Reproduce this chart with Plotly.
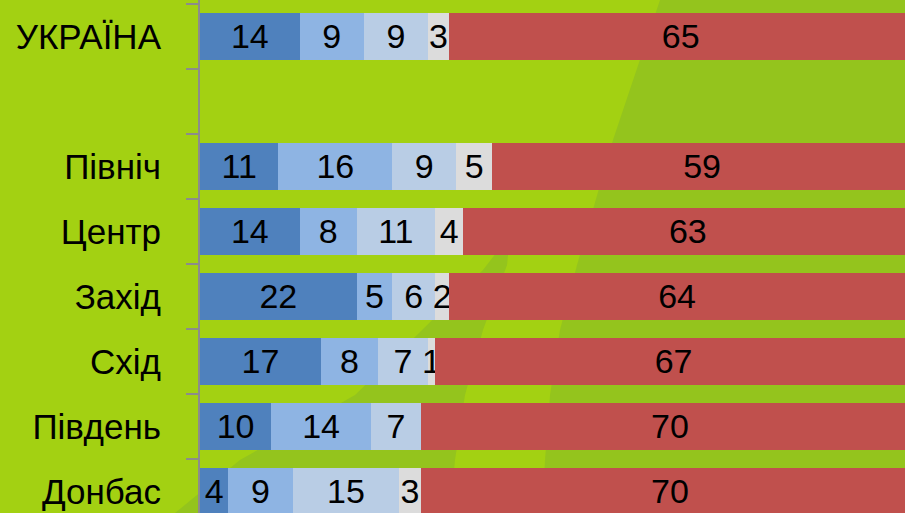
import plotly.graph_objects as go

categories = ["УКРАЇНА", " ", "Північ", "Центр", "Захід", "Схід", "Південь", "Донбас"]
s1 = [14, None, 11, 14, 22, 17, 10, 4]
s2 = [9, None, 16, 8, 5, 8, 14, 9]
s3 = [9, None, 9, 11, 6, 7, 7, 15]
s4 = [3, None, 5, 4, 2, 1, None, 3]
s5 = [65, None, 59, 63, 64, 67, 70, 70]
series = [s1, s2, s3, s4, s5]
colors = ["#4F81BD", "#8EB4E3", "#B9CDE5", "#DCDCDC", "#C0504D"]

W, H = 905, 513
L = 200
BRIGHT = "#A3D112"
DARK = "#94C41D"


def px(x, y):
    return ((x - L) / (W - L), 1 - y / H)


def path(points):
    parts = []
    for i, (x, y) in enumerate(points):
        u, v = px(x, y)
        parts.append(("M" if i == 0 else "L") + f"{u:.4f},{v:.4f}")
    return " ".join(parts) + " Z"


fig = go.Figure()
for vals, col in zip(series, colors):
    fig.add_trace(go.Bar(
        y=categories, x=vals, orientation="h",
        marker=dict(color=col, line=dict(width=0)),
        text=[("" if v is None else str(v)) for v in vals],
        textposition="inside", insidetextanchor="middle",
        textangle=0, constraintext="none",
        textfont=dict(family="Liberation Sans, Arial, sans-serif", size=34, color="black"),
        cliponaxis=True, showlegend=False, hoverinfo="skip",
    ))

shapes = [
    dict(type="path", xref="paper", yref="paper", layer="below",
         path=path([(660, 0), (613, 140), (577, 265), (560, 330), (550, 395), (545, 460), (542, 513), (905, 513), (905, 0)]),
         fillcolor=DARK, line=dict(width=0)),
    dict(type="path", xref="paper", yref="paper", layer="below",
         path=path([(510, 235), (507, 265), (483, 330), (465, 395), (455, 460), (450, 513), (175, 513), (240, 460), (355, 395), (417, 335), (483, 270)]),
         fillcolor=DARK, line=dict(width=0)),
]

fig.update_layout(
    width=W, height=H,
    margin=dict(l=L, r=0, t=0, b=0, pad=0),
    paper_bgcolor=BRIGHT, plot_bgcolor="rgba(0,0,0,0)",
    barmode="stack", bargap=0.277,
    shapes=shapes,
    uniformtext=dict(mode="show", minsize=34),
    xaxis=dict(range=[0, 99], visible=False, showgrid=False, zeroline=False, fixedrange=True),
    yaxis=dict(
        type="category", categoryorder="array", categoryarray=categories,
        range=[7.331, -0.5615], showgrid=False, zeroline=False, fixedrange=True,
        showline=True, linecolor="#8C8C8C", linewidth=2,
        ticks="outside", tickson="boundaries", ticklen=12, tickcolor="#8C8C8C", tickwidth=2,
        tickfont=dict(family="Liberation Sans, Arial, sans-serif", size=35, color="black"),
        ticklabelstandoff=30,
    ),
)

fig.write_html(
    "out.html",
    config={"displayModeBar": False, "staticPlot": True},
    post_script="document.body.style.margin='0';document.body.style.overflow='hidden';",
)
